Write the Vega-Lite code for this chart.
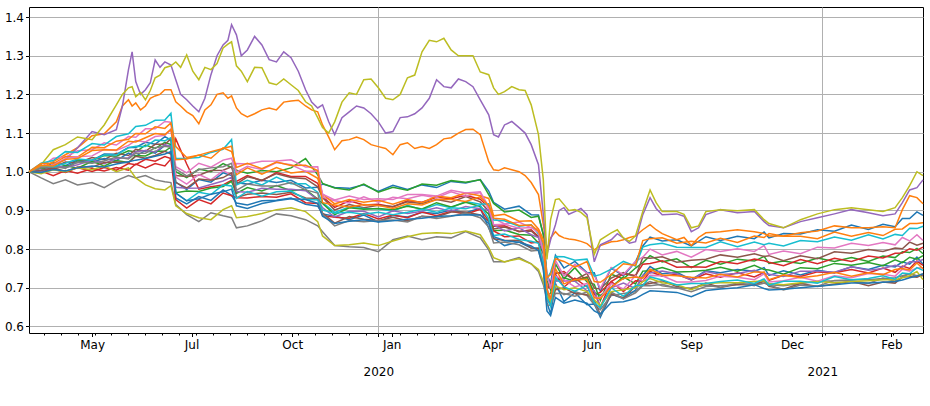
{
"$schema":"https://vega.github.io/schema/vega-lite/v6.json",
"width":894,"height":326,
"autosize":{"type":"none"},
"padding":{"left":29,"top":7,"right":7,"bottom":73},
"background":"white",
"config":{"view":{"stroke":"#000000","strokeWidth":1},"axis":{"labelFont":"DejaVu Sans","labelFontSize":12,"labelColor":"#000000","tickColor":"#000000","domain":false,"gridColor":"#b0b0b0","gridWidth":1,"title":null}},
"data":{"values":[
{"date":"2019-03-19","s01":1,"s02":1,"s03":1,"s04":1,"s05":1,"s06":1,"s07":1,"s08":1,"s09":1,"s10":1,"s11":1,"s12":1,"s13":1,"s14":1,"s15":1,"s16":1,"s17":1,"s18":1,"s19":1,"s20":1,"s21":1,"s22":1},
{"date":"2019-03-29","s01":1.004,"s02":1.010,"s03":1.001,"s04":1.002,"s05":1.005,"s06":1.012,"s07":1.012,"s08":0.984,"s09":1.018,"s10":1.022,"s11":0.997,"s12":1.021,"s13":1.010,"s14":1.000,"s15":1.000,"s16":1.003,"s17":1.012,"s18":1.011,"s19":0.995,"s20":1.015,"s21":0.998,"s22":1.016},
{"date":"2019-04-08","s01":1.024,"s02":1.026,"s03":1.016,"s04":0.990,"s05":1.018,"s06":1.011,"s07":1.035,"s08":0.969,"s09":1.057,"s10":1.029,"s11":1.015,"s12":1.021,"s13":1.007,"s14":1.007,"s15":1.017,"s16":1.010,"s17":1.017,"s18":1.013,"s19":1.005,"s20":1.013,"s21":1.006,"s22":1.015},
{"date":"2019-04-18","s01":1.016,"s02":1.044,"s03":1.010,"s04":1.003,"s05":1.031,"s06":1.025,"s07":1.038,"s08":0.979,"s09":1.070,"s10":1.052,"s11":1.012,"s12":1.039,"s13":1.016,"s14":0.998,"s15":1.011,"s16":1.001,"s17":1.034,"s18":1.009,"s19":1.000,"s20":1.022,"s21":1.002,"s22":1.032},
{"date":"2019-04-28","s01":1.031,"s02":1.062,"s03":1.028,"s04":0.996,"s05":1.062,"s06":1.023,"s07":1.054,"s08":0.966,"s09":1.090,"s10":1.050,"s11":1.025,"s12":1.038,"s13":1.009,"s14":1.011,"s15":1.018,"s16":1.012,"s17":1.039,"s18":1.025,"s19":1.010,"s20":1.033,"s21":1.010,"s22":1.034},
{"date":"2019-05-10","s01":1.029,"s02":1.093,"s03":1.029,"s04":1.008,"s05":1.104,"s06":1.037,"s07":1.057,"s08":0.972,"s09":1.083,"s10":1.073,"s11":1.025,"s12":1.063,"s13":1.027,"s14":1.001,"s15":1.030,"s16":1.012,"s17":1.041,"s18":1.022,"s19":1.005,"s20":1.030,"s21":1.015,"s22":1.055},
{"date":"2019-05-20","s01":1.046,"s02":1.098,"s03":1.042,"s04":1.002,"s05":1.096,"s06":1.031,"s07":1.075,"s08":0.959,"s09":1.121,"s10":1.069,"s11":1.034,"s12":1.062,"s13":1.015,"s14":1.011,"s15":1.021,"s16":1.024,"s17":1.058,"s18":1.028,"s19":1.015,"s20":1.043,"s21":1.012,"s22":1.057},
{"date":"2019-05-30","s01":1.045,"s02":1.129,"s03":1.040,"s04":1.011,"s05":1.109,"s06":1.048,"s07":1.069,"s08":0.977,"s09":1.173,"s10":1.091,"s11":1.029,"s12":1.079,"s13":1.029,"s14":1.004,"s15":1.035,"s16":1.025,"s17":1.055,"s18":1.038,"s19":1.000,"s20":1.043,"s21":1.020,"s22":1.056},
{"date":"2019-06-09","s01":1.063,"s02":1.186,"s03":1.054,"s04":1.004,"s05":1.264,"s06":1.042,"s07":1.091,"s08":0.990,"s09":1.217,"s10":1.098,"s11":1.048,"s12":1.084,"s13":1.024,"s14":1.021,"s15":1.036,"s16":1.023,"s17":1.068,"s18":1.033,"s19":1.010,"s20":1.062,"s21":1.026,"s22":1.079},
{"date":"2019-06-15","s01":1.063,"s02":1.178,"s03":1.051,"s04":1.020,"s05":1.233,"s06":1.058,"s07":1.089,"s08":0.984,"s09":1.194,"s10":1.117,"s11":1.040,"s12":1.099,"s13":1.042,"s14":1.018,"s15":1.052,"s16":1.040,"s17":1.081,"s18":1.048,"s19":0.984,"s20":1.066,"s21":1.030,"s22":1.077},
{"date":"2019-06-23","s01":1.076,"s02":1.170,"s03":1.069,"s04":1.010,"s05":1.212,"s06":1.053,"s07":1.111,"s08":0.990,"s09":1.186,"s10":1.120,"s11":1.055,"s12":1.098,"s13":1.041,"s14":1.032,"s15":1.055,"s16":1.035,"s17":1.077,"s18":1.048,"s19":0.966,"s20":1.065,"s21":1.034,"s22":1.088},
{"date":"2019-07-01","s01":1.071,"s02":1.196,"s03":1.060,"s04":1.021,"s05":1.289,"s06":1.071,"s07":1.111,"s08":0.979,"s09":1.243,"s10":1.133,"s11":1.048,"s12":1.116,"s13":1.053,"s14":1.027,"s15":1.051,"s16":1.042,"s17":1.091,"s18":1.062,"s19":0.956,"s20":1.082,"s21":1.040,"s22":1.099},
{"date":"2019-07-09","s01":1.091,"s02":1.212,"s03":1.076,"s04":1.015,"s05":1.284,"s06":1.071,"s07":1.130,"s08":0.974,"s09":1.269,"s10":1.134,"s11":1.068,"s12":1.112,"s13":1.053,"s14":1.039,"s15":1.070,"s16":1.053,"s17":1.094,"s18":1.066,"s19":0.953,"s20":1.080,"s21":1.046,"s22":1.096},
{"date":"2019-07-14","s01":1.082,"s02":1.212,"s03":1.070,"s04":1.033,"s05":1.276,"s06":1.085,"s07":1.128,"s08":0.972,"s09":1.274,"s10":1.151,"s11":1.066,"s12":1.126,"s13":1.064,"s14":1.034,"s15":1.065,"s16":1.046,"s17":1.109,"s18":1.063,"s19":0.964,"s20":1.088,"s21":1.052,"s22":1.110},
{"date":"2019-07-18","s01":0.973,"s02":1.181,"s03":1.000,"s04":1.085,"s05":1.238,"s06":0.990,"s07":0.986,"s08":0.915,"s09":1.284,"s10":1.034,"s11":0.932,"s12":1.065,"s13":0.946,"s14":0.928,"s15":0.960,"s16":0.972,"s17":1.013,"s18":1.007,"s19":0.912,"s20":0.945,"s21":0.945,"s22":1.031},
{"date":"2019-07-27","s01":0.954,"s02":1.155,"s03":0.985,"s04":1.020,"s05":1.186,"s06":0.988,"s07":0.968,"s08":0.889,"s09":1.302,"s10":1.035,"s11":0.917,"s12":1.037,"s13":0.950,"s14":0.906,"s15":0.957,"s16":0.958,"s17":0.997,"s18":0.989,"s19":0.892,"s20":0.925,"s21":0.925,"s22":1.033},
{"date":"2019-08-06","s01":0.980,"s02":1.124,"s03":1.007,"s04":0.955,"s05":1.155,"s06":0.991,"s07":0.993,"s08":0.871,"s09":1.238,"s10":1.037,"s11":0.936,"s12":1.043,"s13":0.949,"s14":0.928,"s15":0.958,"s16":0.981,"s17":1.022,"s18":1.005,"s19":0.881,"s20":0.947,"s21":0.930,"s22":1.043},
{"date":"2019-08-16","s01":0.973,"s02":1.173,"s03":1.000,"s04":0.961,"s05":1.251,"s06":1.003,"s07":0.979,"s08":0.894,"s09":1.264,"s10":1.050,"s11":0.926,"s12":1.052,"s13":0.958,"s14":0.917,"s15":0.967,"s16":0.978,"s17":1.012,"s18":1.010,"s19":0.876,"s20":0.941,"s21":0.942,"s22":1.035},
{"date":"2019-08-26","s01":0.997,"s02":1.204,"s03":1.021,"s04":0.966,"s05":1.328,"s06":1.004,"s07":1.003,"s08":0.886,"s09":1.320,"s10":1.058,"s11":0.953,"s12":1.060,"s13":0.962,"s14":0.945,"s15":0.976,"s16":0.985,"s17":1.030,"s18":1.013,"s19":0.902,"s20":0.966,"s21":0.948,"s22":1.062},
{"date":"2019-09-02","s01":0.990,"s02":1.196,"s03":1.011,"s04":0.978,"s05":1.380,"s06":1.013,"s07":0.992,"s08":0.881,"s09":1.336,"s10":1.083,"s11":0.939,"s12":1.066,"s13":0.975,"s14":0.938,"s15":0.986,"s16":0.997,"s17":1.035,"s18":1.022,"s19":0.912,"s20":0.963,"s21":0.955,"s22":1.052},
{"date":"2019-09-06","s01":0.972,"s02":1.165,"s03":1.004,"s04":0.975,"s05":1.354,"s06":0.968,"s07":1.021,"s08":0.855,"s09":1.274,"s10":0.966,"s11":0.919,"s12":0.992,"s13":0.944,"s14":0.933,"s15":0.949,"s16":0.933,"s17":0.999,"s18":0.952,"s19":0.881,"s20":0.931,"s21":0.912,"s22":1.011},
{"date":"2019-09-15","s01":0.968,"s02":1.142,"s03":0.996,"s04":0.990,"s05":1.315,"s06":0.987,"s07":1.020,"s08":0.860,"s09":1.233,"s10":0.978,"s11":0.914,"s12":1.010,"s13":0.959,"s14":0.932,"s15":0.947,"s16":0.942,"s17":1.014,"s18":0.968,"s19":0.884,"s20":0.949,"s21":0.905,"s22":1.022},
{"date":"2019-09-27","s01":0.978,"s02":1.160,"s03":1.003,"s04":0.977,"s05":1.328,"s06":0.978,"s07":1.027,"s08":0.873,"s09":1.269,"s10":0.966,"s11":0.925,"s12":0.994,"s13":0.950,"s14":0.936,"s15":0.957,"s16":0.945,"s17":1.006,"s18":0.963,"s19":0.892,"s20":0.937,"s21":0.918,"s22":1.008},
{"date":"2019-10-09","s01":0.972,"s02":1.160,"s03":1.000,"s04":0.998,"s05":1.284,"s06":0.995,"s07":1.028,"s08":0.891,"s09":1.225,"s10":0.986,"s11":0.926,"s12":1.011,"s13":0.964,"s14":0.934,"s15":0.955,"s16":0.941,"s17":1.024,"s18":0.963,"s19":0.902,"s20":0.948,"s21":0.925,"s22":1.025},
{"date":"2019-10-21","s01":0.978,"s02":1.183,"s03":1.010,"s04":0.988,"s05":1.295,"s06":0.985,"s07":1.031,"s08":0.886,"s09":1.225,"s10":0.969,"s11":0.932,"s12":0.997,"s13":0.951,"s14":0.943,"s15":0.955,"s16":0.947,"s17":1.018,"s18":0.972,"s19":0.907,"s20":0.950,"s21":0.930,"s22":1.016},
{"date":"2019-11-02","s01":0.958,"s02":1.170,"s03":1.034,"s04":0.988,"s05":1.212,"s06":0.982,"s07":1.012,"s08":0.876,"s09":1.181,"s10":0.969,"s11":0.916,"s12":1.001,"s13":0.954,"s14":0.920,"s15":0.951,"s16":0.932,"s17":1.001,"s18":0.953,"s19":0.897,"s20":0.929,"s21":0.928,"s22":1.017},
{"date":"2019-11-12","s01":0.960,"s02":1.155,"s03":0.992,"s04":0.970,"s05":1.165,"s06":0.961,"s07":1.013,"s08":0.860,"s09":1.140,"s10":0.947,"s11":0.911,"s12":0.983,"s13":0.929,"s14":0.918,"s15":0.928,"s16":0.931,"s17":1.002,"s18":0.945,"s19":0.871,"s20":0.927,"s21":0.918,"s22":1.003},
{"date":"2019-11-16","s01":0.968,"s02":1.121,"s03":0.970,"s04":0.936,"s05":1.173,"s06":0.933,"s07":0.934,"s08":0.845,"s09":1.114,"s10":0.920,"s11":0.891,"s12":0.942,"s13":0.918,"s14":0.887,"s15":0.907,"s16":0.893,"s17":0.942,"s18":0.890,"s19":0.834,"s20":0.901,"s21":0.885,"s22":0.920},
{"date":"2019-11-26","s01":0.959,"s02":1.057,"s03":0.958,"s04":0.908,"s05":1.096,"s06":0.901,"s07":0.925,"s08":0.809,"s09":1.129,"s10":0.895,"s11":0.885,"s12":0.917,"s13":0.889,"s14":0.882,"s15":0.883,"s16":0.867,"s17":0.927,"s18":0.860,"s19":0.809,"s20":0.893,"s21":0.866,"s22":0.914},
{"date":"2019-12-08","s01":0.957,"s02":1.083,"s03":0.953,"s04":0.925,"s05":1.155,"s06":0.915,"s07":0.919,"s08":0.806,"s09":1.204,"s10":0.909,"s11":0.876,"s12":0.928,"s13":0.907,"s14":0.880,"s15":0.898,"s16":0.884,"s17":0.937,"s18":0.874,"s19":0.811,"s20":0.895,"s21":0.872,"s22":0.909},
{"date":"2019-12-20","s01":0.966,"s02":1.083,"s03":0.968,"s04":0.914,"s05":1.165,"s06":0.907,"s07":0.935,"s08":0.804,"s09":1.238,"s10":0.905,"s11":0.888,"s12":0.921,"s13":0.903,"s14":0.892,"s15":0.898,"s16":0.877,"s17":0.928,"s18":0.871,"s19":0.816,"s20":0.890,"s21":0.876,"s22":0.915},
{"date":"2020-01-01","s01":0.949,"s02":1.065,"s03":0.947,"s04":0.916,"s05":1.129,"s06":0.913,"s07":0.921,"s08":0.793,"s09":1.217,"s10":0.904,"s11":0.870,"s12":0.926,"s13":0.905,"s14":0.878,"s15":0.883,"s16":0.873,"s17":0.930,"s18":0.874,"s19":0.809,"s20":0.895,"s21":0.870,"s22":0.913},
{"date":"2020-01-13","s01":0.965,"s02":1.044,"s03":0.960,"s04":0.909,"s05":1.104,"s06":0.910,"s07":0.934,"s08":0.824,"s09":1.186,"s10":0.898,"s11":0.887,"s12":0.916,"s13":0.902,"s14":0.888,"s15":0.899,"s16":0.882,"s17":0.928,"s18":0.875,"s19":0.821,"s20":0.889,"s21":0.873,"s22":0.905},
{"date":"2020-01-25","s01":0.954,"s02":1.075,"s03":0.952,"s04":0.925,"s05":1.142,"s06":0.922,"s07":0.930,"s08":0.834,"s09":1.243,"s10":0.913,"s11":0.883,"s12":0.928,"s13":0.911,"s14":0.881,"s15":0.892,"s16":0.873,"s17":0.941,"s18":0.870,"s19":0.832,"s20":0.895,"s21":0.877,"s22":0.917},
{"date":"2020-02-06","s01":0.966,"s02":1.065,"s03":0.968,"s04":0.921,"s05":1.165,"s06":0.918,"s07":0.939,"s08":0.824,"s09":1.310,"s10":0.902,"s11":0.895,"s12":0.920,"s13":0.904,"s14":0.896,"s15":0.898,"s16":0.885,"s17":0.941,"s18":0.885,"s19":0.840,"s20":0.903,"s21":0.880,"s22":0.914},
{"date":"2020-02-18","s01":0.959,"s02":1.070,"s03":0.965,"s04":0.934,"s05":1.238,"s06":0.928,"s07":0.933,"s08":0.832,"s09":1.336,"s10":0.915,"s11":0.892,"s12":0.937,"s13":0.920,"s14":0.886,"s15":0.907,"s16":0.883,"s17":0.937,"s18":0.879,"s19":0.842,"s20":0.895,"s21":0.884,"s22":0.928},
{"date":"2020-03-01","s01":0.975,"s02":1.088,"s03":0.977,"s04":0.930,"s05":1.217,"s06":0.921,"s07":0.948,"s08":0.829,"s09":1.315,"s10":0.907,"s11":0.901,"s12":0.933,"s13":0.909,"s14":0.898,"s15":0.898,"s16":0.896,"s17":0.952,"s18":0.885,"s19":0.840,"s20":0.907,"s21":0.886,"s22":0.928},
{"date":"2020-03-13","s01":0.971,"s02":1.109,"s03":0.973,"s04":0.939,"s05":1.233,"s06":0.936,"s07":0.937,"s08":0.845,"s09":1.300,"s10":0.923,"s11":0.894,"s12":0.945,"s13":0.921,"s14":0.890,"s15":0.910,"s16":0.896,"s17":0.945,"s18":0.893,"s19":0.847,"s20":0.904,"s21":0.889,"s22":0.923},
{"date":"2020-03-25","s01":0.980,"s02":1.096,"s03":0.979,"s04":0.929,"s05":1.186,"s06":0.922,"s07":0.946,"s08":0.829,"s09":1.258,"s10":0.916,"s11":0.906,"s12":0.938,"s13":0.910,"s14":0.903,"s15":0.904,"s16":0.888,"s17":0.948,"s18":0.881,"s19":0.837,"s20":0.914,"s21":0.888,"s22":0.935},
{"date":"2020-04-01","s01":0.950,"s02":1.026,"s03":0.941,"s04":0.908,"s05":1.147,"s06":0.898,"s07":0.902,"s08":0.798,"s09":1.251,"s10":0.917,"s11":0.854,"s12":0.931,"s13":0.890,"s14":0.873,"s15":0.901,"s16":0.872,"s17":0.910,"s18":0.857,"s19":0.804,"s20":0.878,"s21":0.866,"s22":0.912},
{"date":"2020-04-05","s01":0.921,"s02":1.005,"s03":0.918,"s04":0.859,"s05":1.096,"s06":0.852,"s07":0.880,"s08":0.767,"s09":1.217,"s10":0.875,"s11":0.828,"s12":0.886,"s13":0.848,"s14":0.847,"s15":0.863,"s16":0.827,"s17":0.863,"s18":0.816,"s19":0.778,"s20":0.835,"s21":0.832,"s22":0.880},
{"date":"2020-04-14","s01":0.903,"s02":1.010,"s03":0.896,"s04":0.860,"s05":1.121,"s06":0.857,"s07":0.865,"s08":0.767,"s09":1.207,"s10":0.873,"s11":0.809,"s12":0.890,"s13":0.849,"s14":0.832,"s15":0.847,"s16":0.822,"s17":0.864,"s18":0.818,"s19":0.767,"s20":0.839,"s21":0.822,"s22":0.877},
{"date":"2020-04-26","s01":0.911,"s02":1.000,"s03":0.901,"s04":0.845,"s05":1.114,"s06":0.846,"s07":0.870,"s08":0.778,"s09":1.212,"s10":0.859,"s11":0.818,"s12":0.872,"s13":0.838,"s14":0.834,"s15":0.855,"s16":0.823,"s17":0.854,"s18":0.811,"s19":0.775,"s20":0.825,"s21":0.818,"s22":0.861},
{"date":"2020-05-06","s01":0.889,"s02":0.972,"s03":0.882,"s04":0.850,"s05":1.070,"s06":0.847,"s07":0.855,"s08":0.762,"s09":1.173,"s10":0.863,"s11":0.803,"s12":0.873,"s13":0.836,"s14":0.816,"s15":0.837,"s16":0.803,"s17":0.856,"s18":0.795,"s19":0.762,"s20":0.820,"s21":0.808,"s22":0.862},
{"date":"2020-05-12","s01":0.888,"s02":0.941,"s03":0.885,"s04":0.833,"s05":1.018,"s06":0.830,"s07":0.851,"s08":0.742,"s09":1.096,"s10":0.839,"s11":0.802,"s12":0.852,"s13":0.816,"s14":0.818,"s15":0.830,"s16":0.802,"s17":0.843,"s18":0.797,"s19":0.747,"s20":0.815,"s21":0.796,"s22":0.846},
{"date":"2020-05-16","s01":0.837,"s02":0.863,"s03":0.838,"s04":0.802,"s05":0.889,"s06":0.796,"s07":0.801,"s08":0.708,"s09":0.979,"s10":0.808,"s11":0.755,"s12":0.825,"s13":0.788,"s14":0.764,"s15":0.795,"s16":0.756,"s17":0.795,"s18":0.747,"s19":0.716,"s20":0.763,"s21":0.750,"s22":0.816},
{"date":"2020-05-19","s01":0.735,"s02":0.798,"s03":0.719,"s04":0.700,"s05":0.786,"s06":0.697,"s07":0.736,"s08":0.669,"s09":0.773,"s10":0.724,"s11":0.662,"s12":0.726,"s13":0.678,"s14":0.686,"s15":0.666,"s16":0.672,"s17":0.699,"s18":0.655,"s19":0.680,"s20":0.674,"s21":0.640,"s22":0.696},
{"date":"2020-05-22","s01":0.711,"s02":0.829,"s03":0.695,"s04":0.702,"s05":0.824,"s06":0.711,"s07":0.698,"s08":0.656,"s09":0.876,"s10":0.740,"s11":0.632,"s12":0.734,"s13":0.686,"s14":0.654,"s15":0.674,"s16":0.656,"s17":0.669,"s18":0.655,"s19":0.664,"s20":0.652,"s21":0.628,"s22":0.670},
{"date":"2020-05-26","s01":0.784,"s02":0.845,"s03":0.762,"s04":0.737,"s05":0.863,"s06":0.738,"s07":0.771,"s08":0.700,"s09":0.928,"s10":0.781,"s11":0.711,"s12":0.775,"s13":0.719,"s14":0.735,"s15":0.717,"s16":0.695,"s17":0.730,"s18":0.686,"s19":0.705,"s20":0.727,"s21":0.675,"s22":0.749},
{"date":"2020-06-02","s01":0.751,"s02":0.829,"s03":0.723,"s04":0.742,"s05":0.907,"s06":0.737,"s07":0.730,"s08":0.682,"s09":0.915,"s10":0.780,"s11":0.664,"s12":0.768,"s13":0.726,"s14":0.702,"s15":0.718,"s16":0.700,"s17":0.721,"s18":0.685,"s19":0.695,"s20":0.702,"s21":0.660,"s22":0.710},
{"date":"2020-06-11","s01":0.768,"s02":0.824,"s03":0.752,"s04":0.719,"s05":0.897,"s06":0.720,"s07":0.761,"s08":0.690,"s09":0.902,"s10":0.771,"s11":0.687,"s12":0.753,"s13":0.717,"s14":0.725,"s15":0.717,"s16":0.685,"s17":0.702,"s18":0.678,"s19":0.700,"s20":0.691,"s21":0.668,"s22":0.721},
{"date":"2020-06-21","s01":0.739,"s02":0.814,"s03":0.715,"s04":0.728,"s05":0.889,"s06":0.737,"s07":0.738,"s08":0.680,"s09":0.881,"s10":0.774,"s11":0.656,"s12":0.768,"s13":0.726,"s14":0.702,"s15":0.692,"s16":0.682,"s17":0.711,"s18":0.689,"s19":0.690,"s20":0.706,"s21":0.660,"s22":0.722},
{"date":"2020-06-27","s01":0.739,"s02":0.798,"s03":0.709,"s04":0.682,"s05":0.767,"s06":0.699,"s07":0.732,"s08":0.656,"s09":0.786,"s10":0.730,"s11":0.658,"s12":0.716,"s13":0.688,"s14":0.690,"s15":0.692,"s16":0.668,"s17":0.675,"s18":0.659,"s19":0.669,"s20":0.662,"s21":0.640,"s22":0.674},
{"date":"2020-07-02","s01":0.691,"s02":0.809,"s03":0.667,"s04":0.688,"s05":0.811,"s06":0.697,"s07":0.698,"s08":0.643,"s09":0.824,"s10":0.734,"s11":0.624,"s12":0.714,"s13":0.680,"s14":0.650,"s15":0.652,"s16":0.630,"s17":0.675,"s18":0.630,"s19":0.654,"s20":0.648,"s21":0.632,"s22":0.672},
{"date":"2020-07-11","s01":0.751,"s02":0.819,"s03":0.735,"s04":0.716,"s05":0.824,"s06":0.725,"s07":0.752,"s08":0.680,"s09":0.842,"s10":0.748,"s11":0.684,"s12":0.734,"s13":0.702,"s14":0.716,"s15":0.700,"s16":0.684,"s17":0.711,"s18":0.689,"s19":0.690,"s20":0.700,"s21":0.662,"s22":0.702},
{"date":"2020-07-21","s01":0.731,"s02":0.824,"s03":0.723,"s04":0.736,"s05":0.829,"s06":0.739,"s07":0.734,"s08":0.685,"s09":0.829,"s10":0.768,"s11":0.672,"s12":0.762,"s13":0.728,"s14":0.690,"s15":0.712,"s16":0.674,"s17":0.697,"s18":0.671,"s19":0.695,"s20":0.678,"s21":0.664,"s22":0.724},
{"date":"2020-07-31","s01":0.767,"s02":0.834,"s03":0.751,"s04":0.732,"s05":0.819,"s06":0.729,"s07":0.768,"s08":0.690,"s09":0.834,"s10":0.756,"s11":0.694,"s12":0.758,"s13":0.710,"s14":0.718,"s15":0.698,"s16":0.704,"s17":0.731,"s18":0.687,"s19":0.700,"s20":0.706,"s21":0.672,"s22":0.728},
{"date":"2020-08-06","s01":0.808,"s02":0.850,"s03":0.765,"s04":0.761,"s05":0.889,"s06":0.778,"s07":0.779,"s08":0.708,"s09":0.897,"s10":0.805,"s11":0.731,"s12":0.822,"s13":0.743,"s14":0.717,"s15":0.732,"s16":0.708,"s17":0.717,"s18":0.705,"s19":0.716,"s20":0.706,"s21":0.683,"s22":0.725},
{"date":"2020-08-12","s01":0.831,"s02":0.863,"s03":0.783,"s04":0.763,"s05":0.933,"s06":0.776,"s07":0.800,"s08":0.716,"s09":0.953,"s10":0.811,"s11":0.755,"s12":0.827,"s13":0.744,"s14":0.742,"s15":0.738,"s16":0.711,"s17":0.732,"s18":0.705,"s19":0.724,"s20":0.728,"s21":0.692,"s22":0.748},
{"date":"2020-08-22","s01":0.821,"s02":0.840,"s03":0.767,"s04":0.770,"s05":0.889,"s06":0.780,"s07":0.785,"s08":0.705,"s09":0.897,"s10":0.815,"s11":0.736,"s12":0.829,"s13":0.752,"s14":0.730,"s15":0.743,"s16":0.718,"s17":0.731,"s18":0.709,"s19":0.713,"s20":0.720,"s21":0.690,"s22":0.733},
{"date":"2020-09-03","s01":0.824,"s02":0.824,"s03":0.775,"s04":0.753,"s05":0.891,"s06":0.766,"s07":0.794,"s08":0.700,"s09":0.897,"s10":0.805,"s11":0.740,"s12":0.815,"s13":0.741,"s14":0.735,"s15":0.736,"s16":0.703,"s17":0.715,"s18":0.699,"s19":0.708,"s20":0.707,"s21":0.688,"s22":0.731},
{"date":"2020-09-15","s01":0.808,"s02":0.809,"s03":0.752,"s04":0.754,"s05":0.845,"s06":0.771,"s07":0.779,"s08":0.690,"s09":0.855,"s10":0.804,"s11":0.721,"s12":0.820,"s13":0.742,"s14":0.720,"s15":0.720,"s16":0.697,"s17":0.715,"s18":0.700,"s19":0.695,"s20":0.711,"s21":0.677,"s22":0.727},
{"date":"2020-09-27","s01":0.832,"s02":0.842,"s03":0.771,"s04":0.753,"s05":0.889,"s06":0.774,"s07":0.799,"s08":0.703,"s09":0.897,"s10":0.804,"s11":0.744,"s12":0.816,"s13":0.745,"s14":0.736,"s15":0.742,"s16":0.712,"s17":0.719,"s18":0.707,"s19":0.711,"s20":0.711,"s21":0.693,"s22":0.725},
{"date":"2020-10-09","s01":0.822,"s02":0.845,"s03":0.761,"s04":0.768,"s05":0.902,"s06":0.785,"s07":0.794,"s08":0.705,"s09":0.902,"s10":0.819,"s11":0.739,"s12":0.828,"s13":0.753,"s14":0.727,"s15":0.734,"s16":0.701,"s17":0.730,"s18":0.701,"s19":0.713,"s20":0.716,"s21":0.697,"s22":0.735},
{"date":"2020-10-23","s01":0.833,"s02":0.850,"s03":0.774,"s04":0.762,"s05":0.894,"s06":0.779,"s07":0.801,"s08":0.708,"s09":0.899,"s10":0.806,"s11":0.747,"s12":0.817,"s13":0.743,"s14":0.739,"s15":0.737,"s16":0.709,"s17":0.727,"s18":0.713,"s19":0.713,"s20":0.720,"s21":0.700,"s22":0.728},
{"date":"2020-11-06","s01":0.827,"s02":0.845,"s03":0.769,"s04":0.774,"s05":0.897,"s06":0.788,"s07":0.794,"s08":0.711,"s09":0.902,"s10":0.818,"s11":0.743,"s12":0.834,"s13":0.758,"s14":0.728,"s15":0.745,"s16":0.706,"s17":0.721,"s18":0.706,"s19":0.716,"s20":0.711,"s21":0.708,"s22":0.741},
{"date":"2020-11-14","s01":0.844,"s02":0.840,"s03":0.781,"s04":0.770,"s05":0.871,"s06":0.781,"s07":0.809,"s08":0.716,"s09":0.876,"s10":0.811,"s11":0.752,"s12":0.830,"s13":0.747,"s14":0.740,"s15":0.736,"s16":0.718,"s17":0.736,"s18":0.712,"s19":0.718,"s20":0.723,"s21":0.698,"s22":0.740},
{"date":"2020-11-18","s01":0.829,"s02":0.834,"s03":0.763,"s04":0.766,"s05":0.861,"s06":0.783,"s07":0.786,"s08":0.708,"s09":0.866,"s10":0.815,"s11":0.732,"s12":0.840,"s13":0.746,"s14":0.719,"s15":0.735,"s16":0.704,"s17":0.715,"s18":0.707,"s19":0.711,"s20":0.707,"s21":0.694,"s22":0.721},
{"date":"2020-11-30","s01":0.840,"s02":0.834,"s03":0.769,"s04":0.757,"s05":0.855,"s06":0.770,"s07":0.795,"s08":0.705,"s09":0.855,"s10":0.808,"s11":0.744,"s12":0.833,"s13":0.735,"s14":0.732,"s15":0.729,"s16":0.696,"s17":0.718,"s18":0.694,"s19":0.708,"s20":0.717,"s21":0.696,"s22":0.733},
{"date":"2020-12-14","s01":0.839,"s02":0.842,"s03":0.763,"s04":0.773,"s05":0.871,"s06":0.783,"s07":0.788,"s08":0.711,"s09":0.876,"s10":0.822,"s11":0.733,"s12":0.833,"s13":0.752,"s14":0.729,"s15":0.743,"s16":0.711,"s17":0.727,"s18":0.707,"s19":0.713,"s20":0.717,"s21":0.700,"s22":0.726},
{"date":"2020-12-28","s01":0.850,"s02":0.847,"s03":0.777,"s04":0.762,"s05":0.881,"s06":0.775,"s07":0.805,"s08":0.716,"s09":0.891,"s10":0.819,"s11":0.745,"s12":0.827,"s13":0.749,"s14":0.741,"s15":0.743,"s16":0.703,"s17":0.717,"s18":0.704,"s19":0.716,"s20":0.712,"s21":0.704,"s22":0.731},
{"date":"2021-01-11","s01":0.846,"s02":0.860,"s03":0.768,"s04":0.776,"s05":0.891,"s06":0.793,"s07":0.803,"s08":0.718,"s09":0.902,"s10":0.831,"s11":0.739,"s12":0.844,"s13":0.763,"s14":0.739,"s15":0.740,"s16":0.710,"s17":0.731,"s18":0.719,"s19":0.713,"s20":0.729,"s21":0.708,"s22":0.740},
{"date":"2021-01-25","s01":0.862,"s02":0.855,"s03":0.778,"s04":0.768,"s05":0.902,"s06":0.789,"s07":0.815,"s08":0.721,"s09":0.907,"s10":0.823,"s11":0.754,"s12":0.833,"s13":0.758,"s14":0.747,"s15":0.754,"s16":0.717,"s17":0.726,"s18":0.718,"s19":0.716,"s20":0.721,"s21":0.712,"s22":0.730},
{"date":"2021-02-08","s01":0.851,"s02":0.855,"s03":0.768,"s04":0.782,"s05":0.894,"s06":0.799,"s07":0.809,"s08":0.721,"s09":0.902,"s10":0.837,"s11":0.747,"s12":0.843,"s13":0.765,"s14":0.738,"s15":0.745,"s16":0.705,"s17":0.737,"s18":0.711,"s19":0.718,"s20":0.724,"s21":0.712,"s22":0.739},
{"date":"2021-02-20","s01":0.864,"s02":0.858,"s03":0.782,"s04":0.777,"s05":0.886,"s06":0.794,"s07":0.817,"s08":0.724,"s09":0.897,"s10":0.826,"s11":0.758,"s12":0.835,"s13":0.757,"s14":0.751,"s15":0.750,"s16":0.715,"s17":0.735,"s18":0.725,"s19":0.721,"s20":0.731,"s21":0.714,"s22":0.734},
{"date":"2021-03-02","s01":0.858,"s02":0.855,"s03":0.778,"s04":0.789,"s05":0.891,"s06":0.803,"s07":0.811,"s08":0.726,"s09":0.907,"s10":0.838,"s11":0.754,"s12":0.851,"s13":0.772,"s14":0.740,"s15":0.758,"s16":0.712,"s17":0.730,"s18":0.717,"s19":0.721,"s20":0.722,"s21":0.716,"s22":0.747},
{"date":"2021-03-08","s01":0.879,"s02":0.902,"s03":0.793,"s04":0.790,"s05":0.920,"s06":0.801,"s07":0.830,"s08":0.731,"s09":0.933,"s10":0.835,"s11":0.767,"s12":0.852,"s13":0.765,"s14":0.756,"s15":0.753,"s16":0.728,"s17":0.748,"s18":0.727,"s19":0.726,"s20":0.738,"s21":0.720,"s22":0.750},
{"date":"2021-03-14","s01":0.879,"s02":0.938,"s03":0.791,"s04":0.801,"s05":0.953,"s06":0.818,"s07":0.821,"s08":0.736,"s09":0.964,"s10":0.854,"s11":0.761,"s12":0.866,"s13":0.779,"s14":0.750,"s15":0.767,"s16":0.729,"s17":0.743,"s18":0.737,"s19":0.731,"s20":0.736,"s21":0.726,"s22":0.746},
{"date":"2021-03-20","s01":0.896,"s02":0.933,"s03":0.802,"s04":0.797,"s05":0.959,"s06":0.810,"s07":0.837,"s08":0.729,"s09":1.000,"s10":0.853,"s11":0.779,"s12":0.866,"s13":0.774,"s14":0.769,"s15":0.767,"s16":0.727,"s17":0.751,"s18":0.731,"s19":0.742,"s20":0.752,"s21":0.730,"s22":0.764},
{"date":"2021-03-25","s01":0.887,"s02":0.917,"s03":0.788,"s04":0.805,"s05":0.979,"s06":0.815,"s07":0.822,"s08":0.731,"s09":0.990,"s10":0.859,"s11":0.761,"s12":0.868,"s13":0.783,"s14":0.758,"s15":0.773,"s16":0.734,"s17":0.752,"s18":0.736,"s19":0.721,"s20":0.745,"s21":0.736,"s22":0.749},
{"date":"2019-06-04","s02":1.170,"s05":1.170,"s09":1.200},
{"date":"2019-06-12","s02":1.170,"s05":1.310,"s09":1.220},
{"date":"2019-06-19","s02":1.160,"s05":1.200,"s09":1.205},
{"date":"2019-06-27","s02":1.190,"s05":1.230,"s09":1.210},
{"date":"2019-07-05","s02":1.200,"s05":1.270,"s09":1.250},
{"date":"2019-07-22","s02":1.170,"s05":1.200,"s09":1.270},
{"date":"2019-08-01","s02":1.145,"s05":1.170,"s09":1.260},
{"date":"2019-08-11","s02":1.160,"s05":1.190,"s09":1.270},
{"date":"2019-08-21","s02":1.200,"s05":1.300,"s09":1.280},
{"date":"2019-08-30","s02":1.190,"s05":1.340,"s09":1.330},
{"date":"2019-09-10","s02":1.150,"s05":1.300,"s09":1.260},
{"date":"2019-09-21","s02":1.150,"s05":1.350,"s09":1.270},
{"date":"2019-10-03","s02":1.165,"s05":1.290,"s09":1.230},
{"date":"2019-10-15","s02":1.180,"s05":1.310,"s09":1.240},
{"date":"2019-10-27","s02":1.185,"s05":1.260,"s09":1.210},
{"date":"2019-11-07","s02":1.160,"s05":1.180,"s09":1.170},
{"date":"2019-11-21","s02":1.090,"s05":1.130,"s09":1.100},
{"date":"2019-12-02","s02":1.080,"s05":1.140,"s09":1.180},
{"date":"2019-12-14","s02":1.090,"s05":1.170,"s09":1.200},
{"date":"2019-12-26","s02":1.070,"s05":1.150,"s09":1.240},
{"date":"2020-01-07","s02":1.060,"s05":1.100,"s09":1.190},
{"date":"2020-01-19","s02":1.070,"s05":1.140,"s09":1.200},
{"date":"2020-01-31","s02":1.060,"s05":1.150,"s09":1.250},
{"date":"2020-02-12","s02":1.060,"s05":1.190,"s09":1.340},
{"date":"2020-02-24","s02":1.085,"s05":1.220,"s09":1.345},
{"date":"2020-03-07","s02":1.100,"s05":1.240,"s09":1.300},
{"date":"2020-03-19","s02":1.110,"s05":1.220,"s09":1.300},
{"date":"2020-04-09","s02":1.003,"s05":1.090,"s09":1.200},
{"date":"2020-04-20","s02":1.005,"s05":1.130,"s09":1.220},
{"date":"2020-05-01","s02":0.990,"s05":1.100,"s09":1.210},
{"date":"2020-05-29","s02":0.835,"s05":0.900,"s09":0.930},
{"date":"2020-06-06","s02":0.826,"s05":0.890,"s09":0.900},
{"date":"2020-06-16","s02":0.820,"s05":0.905,"s09":0.895},
{"date":"2020-07-16","s02":0.820,"s05":0.840,"s09":0.850},
{"date":"2020-07-26","s02":0.830,"s05":0.815,"s09":0.820},
{"date":"2020-08-17","s02":0.850,"s05":0.905,"s09":0.920},
{"date":"2020-09-09","s02":0.830,"s05":0.885,"s09":0.890},
{"date":"2020-09-21","s02":0.830,"s05":0.855,"s09":0.860}
]},
"transform":[{"fold":["s01","s02","s03","s04","s05","s06","s07","s08","s09","s10","s11","s12","s13","s14","s15","s16","s17","s18","s19","s20","s21","s22"],"as":["series","value"]},{"filter":"isValid(datum.value)"}],
"encoding":{
"y":{"field":"value","type":"quantitative","scale":{"domain":[0.583,1.426],"nice":false,"zero":false},"axis":{"values":[0.6,0.7,0.8,0.9,1.0,1.1,1.2,1.3,1.4],"format":".1f","grid":true,"tickSize":3.5,"labelPadding":2}},
"color":{"field":"series","type":"nominal","legend":null,"scale":{"domain":["s01","s02","s03","s04","s05","s06","s07","s08","s09","s10","s11","s12","s13","s14","s15","s16","s17","s18","s19","s20","s21","s22"],"range":["#1f77b4","#ff7f0e","#2ca02c","#d62728","#9467bd","#8c564b","#e377c2","#7f7f7f","#bcbd22","#17becf","#1f77b4","#ff7f0e","#2ca02c","#d62728","#9467bd","#8c564b","#e377c2","#7f7f7f","#bcbd22","#17becf","#1f77b4","#ff7f0e"]}}
},
"layer":[
{"mark":{"type":"line","strokeWidth":1.5},
 "encoding":{"x":{"field":"date","type":"temporal","scale":{"type":"utc","domain":[{"year":2019,"month":3,"date":19,"utc":true},{"year":2021,"month":3,"date":25,"utc":true}]},
  "axis":{"orient":"bottom","grid":false,"labelExpr":"utcFormat(datum.value, '%b')","tickSize":3.5,"labelPadding":3,
   "values":[{"year":2019,"month":5,"date":10,"utc":true},{"year":2019,"month":7,"date":31,"utc":true},{"year":2019,"month":10,"date":22,"utc":true},{"year":2020,"month":1,"date":12,"utc":true},{"year":2020,"month":4,"date":4,"utc":true},{"year":2020,"month":6,"date":25,"utc":true},{"year":2020,"month":9,"date":15,"utc":true},{"year":2020,"month":12,"date":7,"utc":true},{"year":2021,"month":2,"date":27,"utc":true}]}}}},
{"mark":{"type":"line","opacity":0,"strokeOpacity":0},
 "encoding":{"x":{"field":"date","type":"temporal","scale":{"type":"utc","domain":[{"year":2019,"month":3,"date":19,"utc":true},{"year":2021,"month":3,"date":25,"utc":true}]},
  "axis":{"orient":"bottom","grid":true,"labelExpr":"utcFormat(datum.value, '%Y')","tickSize":3.5,"labelPadding":30,
   "values":[{"year":2020,"month":1,"date":1,"utc":true},{"year":2021,"month":1,"date":1,"utc":true}]}}}},
{"mark":{"type":"line","opacity":0,"strokeOpacity":0},
 "encoding":{"x":{"field":"date","type":"temporal","scale":{"type":"utc","domain":[{"year":2019,"month":3,"date":19,"utc":true},{"year":2021,"month":3,"date":25,"utc":true}]},
  "axis":{"orient":"bottom","grid":false,"labels":false,"tickSize":2,"tickCount":{"interval":"week","step":2}}}}}
],
"resolve":{"axis":{"x":"independent"}}
}
